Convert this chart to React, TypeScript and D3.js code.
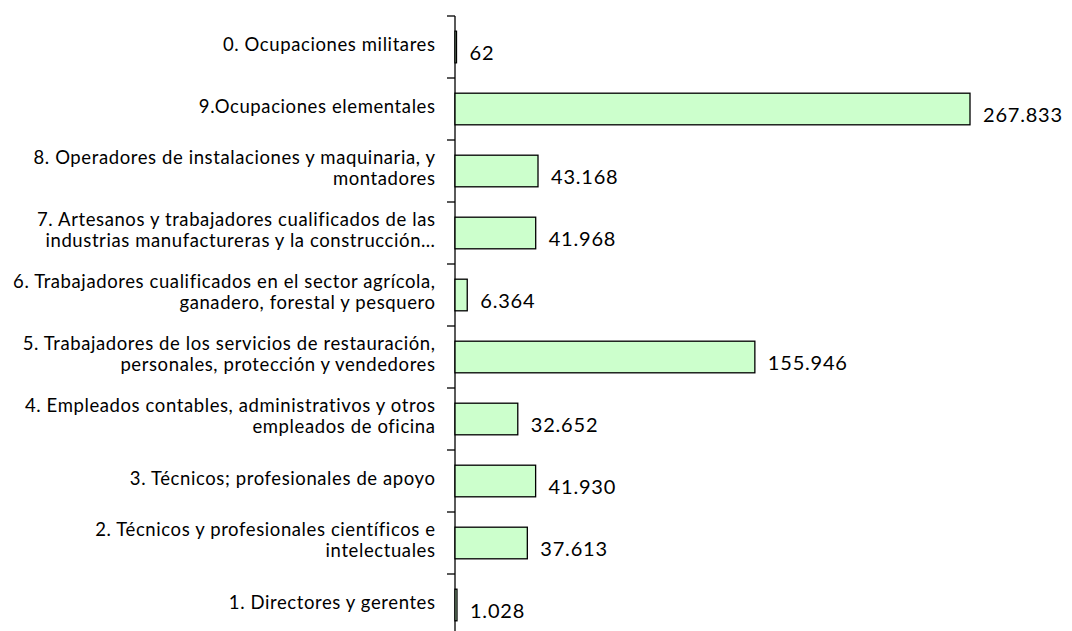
import React from "react";
import * as d3 from "d3";

const categories: string[][] = [
  ["0. Ocupaciones militares"],
  ["9.Ocupaciones elementales"],
  ["8. Operadores de instalaciones y maquinaria, y", "montadores"],
  ["7. Artesanos y trabajadores cualificados de las", "industrias manufactureras y la construcción…"],
  ["6. Trabajadores cualificados en el sector agrícola,", "ganadero, forestal y pesquero"],
  ["5. Trabajadores de los servicios de restauración,", "personales, protección y vendedores"],
  ["4. Empleados contables, administrativos y otros", "empleados de oficina"],
  ["3. Técnicos; profesionales de apoyo"],
  ["2. Técnicos y profesionales científicos e", "intelectuales"],
  ["1. Directores y gerentes"],
];
const values: number[] = [62, 267833, 43168, 41968, 6364, 155946, 32652, 41930, 37613, 1028];
const valueLabels: string[] = ["62", "267.833", "43.168", "41.968", "6.364", "155.946", "32.652", "41.930", "37.613", "1.028"];

export default function App() {
  const W = 1072, H = 631;
  const x0 = 455;
  const top = 16, bottom = 636;
  const x = d3.scaleLinear().domain([0, 267833]).range([x0, 970]);
  const y = d3.scaleBand<number>().domain(d3.range(values.length)).range([top, bottom]).paddingInner(0.49).paddingOuter(0.245);
  const bandStep = y.step();
  const font = "Lato, 'Open Sans', sans-serif";
  return (
    <svg width={W} height={H} style={{ position: "absolute", left: 0, top: 0, background: "#fff" }}>
      <line x1={x0} x2={x0} y1={top} y2={bottom} stroke="#000" strokeWidth={1.3} />
      {d3.range(values.length + 1).map((i) => {
        const yy = top + i * bandStep;
        return <line key={"t" + i} x1={x0 - 8} x2={x0} y1={yy} y2={yy} stroke="#000" strokeWidth={1.3} />;
      })}
      {values.map((v, i) => {
        const by = y(i)!;
        const c = by + y.bandwidth() / 2;
        const w = Math.max(x(v) - x0, 1.5);
        return (
          <g key={i}>
            <rect x={x0} y={by} width={w} height={y.bandwidth()} fill="#ccffcc" stroke="#000" strokeWidth={1.3} />
            <text x={x0 + w + 13} y={c + 8} fontFamily={font} fontSize={20} letterSpacing={0.8} fill="#000" dominantBaseline="middle">
              {valueLabels[i]}
            </text>
            {categories[i].map((line, j) => {
              const n = categories[i].length;
              const ly = c - 1 + (j - (n - 1) / 2) * 21.5;
              return (
                <text key={j} x={435.6} y={ly} textAnchor="end" fontFamily={font} fontSize={18.5} letterSpacing={0.6} fill="#000" dominantBaseline="middle">
                  {line}
                </text>
              );
            })}
          </g>
        );
      })}
    </svg>
  );
}
